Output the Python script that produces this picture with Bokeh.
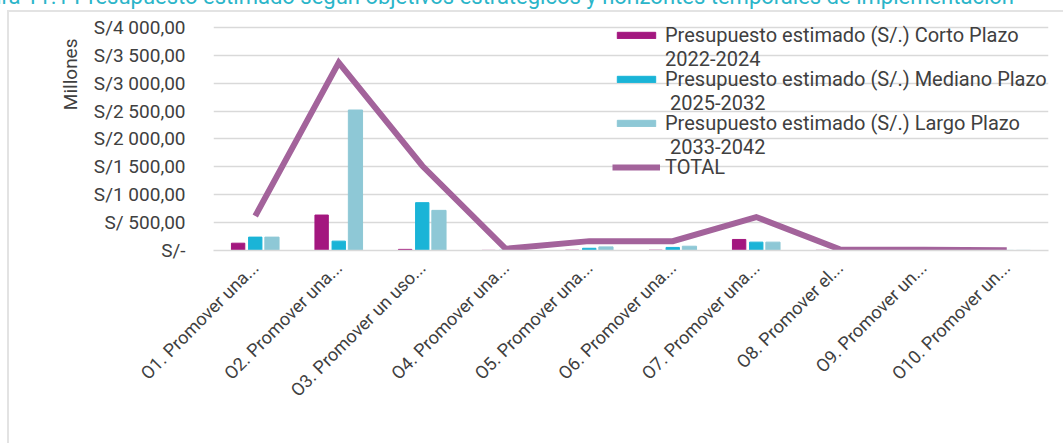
import math
from bokeh.plotting import figure
from bokeh.models import (FactorRange, Range1d, FixedTicker, Legend, Title,
                          LegendItem, ColumnDataSource)
from bokeh.transform import dodge
from bokeh.embed import file_html
from bokeh.resources import INLINE

categories = ["O1. Promover una...", "O2. Promover una...", "O3. Promover un uso...",
              "O4. Promover una...", "O5. Promover una...", "O6. Promover una...",
              "O7. Promover una...", "O8. Promover el...", "O9. Promover un...",
              "O10. Promover un..."]
corto = [131, 636, 20, 2, 5, 5, 198, 3, 2, 1]
mediano = [240, 168, 858, 3, 40, 55, 150, 5, 3, 1]
largo = [240, 2520, 720, 5, 65, 77, 150, 8, 5, 2]
total = [618, 3370, 1520, 30, 168, 168, 600, 20, 15, 5]
y_ticks = [0, 500, 1000, 1500, 2000, 2500, 3000, 3500, 4000]

series_names = ["Presupuesto estimado (S/.) Corto Plazo",
                "Presupuesto estimado (S/.) Mediano Plazo",
                "Presupuesto estimado (S/.) Largo Plazo",
                "TOTAL"]
series_periods = ["2022-2024", "\u00a02025-2032", "\u00a02033-2042"]
title_text = "Figura 11.1 Presupuesto estimado según objetivos estratégicos y horizontes temporales de implementación"

C_CORTO = "#a3177f"
C_MED = "#1ab4d7"
C_LARGO = "#8ec8d6"
C_TOTAL = "#a3639b"
TXT = "#404040"
FONT = "Roboto"

src = ColumnDataSource(dict(cat=categories, corto=corto, mediano=mediano,
                            largo=largo, total=total))

# top of the plotting area sits a little above the last gridline (4000)
p = figure(width=1063, height=468, output_backend="svg", toolbar_location=None,
           x_range=FactorRange(factors=categories, range_padding=0),
           y_range=Range1d(0, 4269),
           min_border_left=213, min_border_right=15, min_border_top=37,
           min_border_bottom=193)
# thin grey border of the chart box (drawn as the page element's background)
p.styles = {"position": "absolute", "left": "0px", "top": "-25px",
            "background-color": "white",
            "background-image": "linear-gradient(#e3e3e3, #e3e3e3), linear-gradient(#e3e3e3, #e3e3e3)",
            "background-size": "2px 100%, 100% 2px",
            "background-position": "7px 36px, 7px 35px",
            "background-repeat": "no-repeat"}
p.outline_line_color = None
p.background_fill_color = "white"
p.border_fill_alpha = 0

r1 = p.vbar(x=dodge("cat", -0.205, range=p.x_range), top="corto", width=0.16,
            source=src, color=C_CORTO)
r2 = p.vbar(x=dodge("cat", 0.0, range=p.x_range), top="mediano", width=0.16,
            source=src, color=C_MED)
r3 = p.vbar(x=dodge("cat", 0.2, range=p.x_range), top="largo", width=0.17,
            source=src, color=C_LARGO)
r4 = p.line(x="cat", y="total", source=src, color=C_TOTAL, line_width=6,
            line_join="miter")
blank = p.vbar(x=[], top=[], width=0.1, fill_alpha=0, line_alpha=0)

# axes
p.yaxis.ticker = FixedTicker(ticks=y_ticks)
overrides = {}
for v in y_ticks:
    if v == 0:
        overrides[v] = "S/-"
    else:
        s = f"{v:,.2f}".replace(",", " ").replace(".", ",")
        overrides[v] = ("S/ " + s) if v < 1000 else ("S/" + s)
p.yaxis.major_label_overrides = overrides
p.yaxis.axis_line_color = None
p.yaxis.major_tick_line_color = None
p.yaxis.minor_tick_line_color = None
p.yaxis.major_label_standoff = 22
p.yaxis.major_label_text_font = FONT
p.yaxis.major_label_text_font_size = "19px"
p.yaxis.major_label_text_color = TXT

p.xaxis.axis_line_color = "#d9d9d9"
p.xaxis.axis_line_width = 1.5
p.xaxis.major_tick_line_color = None
p.xaxis.minor_tick_line_color = None
p.xaxis.major_label_orientation = math.pi / 4
p.xaxis.major_label_text_font = FONT
p.xaxis.major_label_text_font_size = "18px"
p.xaxis.major_label_text_color = TXT
p.xaxis.major_label_standoff = 8

p.xgrid.grid_line_color = None
p.ygrid.grid_line_color = "#d9d9d9"
p.ygrid.grid_line_width = 1.5

# y axis title
p.add_layout(Title(text="Millones", align="right", offset=26,
                   text_font=FONT, text_font_size="19px",
                   text_font_style="normal", text_color=TXT, standoff=18), "left")

# caption at top (cut off by the window edge, as in the source image)
p.title.text = title_text
p.title.align = "left"
p.title.offset = -254
p.title.text_font = FONT
p.title.text_font_size = "22px"
p.title.text_font_style = "normal"
p.title.text_color = "#2bb5c9"
p.title.standoff = 8

common = dict(padding=0, margin=0, spacing=20, glyph_width=48, glyph_height=8,
              label_height=22, label_standoff=5, label_text_font=FONT,
              label_text_font_size="20px", label_text_color=TXT,
              background_fill_alpha=0, border_line_color=None)

# series names (first line of each legend entry)
legend_names = Legend(items=[LegendItem(label=series_names[0], renderers=[r1]),
                             LegendItem(label=series_names[1], renderers=[r2]),
                             LegendItem(label=series_names[2], renderers=[r3]),
                             LegendItem(label=series_names[3], renderers=[r4])],
                      location=(399, 71), **common)
# second line of the wrapped entries (periods)
legend_periods = Legend(items=[LegendItem(label=t, renderers=[blank])
                               for t in series_periods],
                        location=(399, 91), **common)
p.add_layout(legend_names)
p.add_layout(legend_periods)

open("out.html", "w").write(file_html(p, INLINE))
